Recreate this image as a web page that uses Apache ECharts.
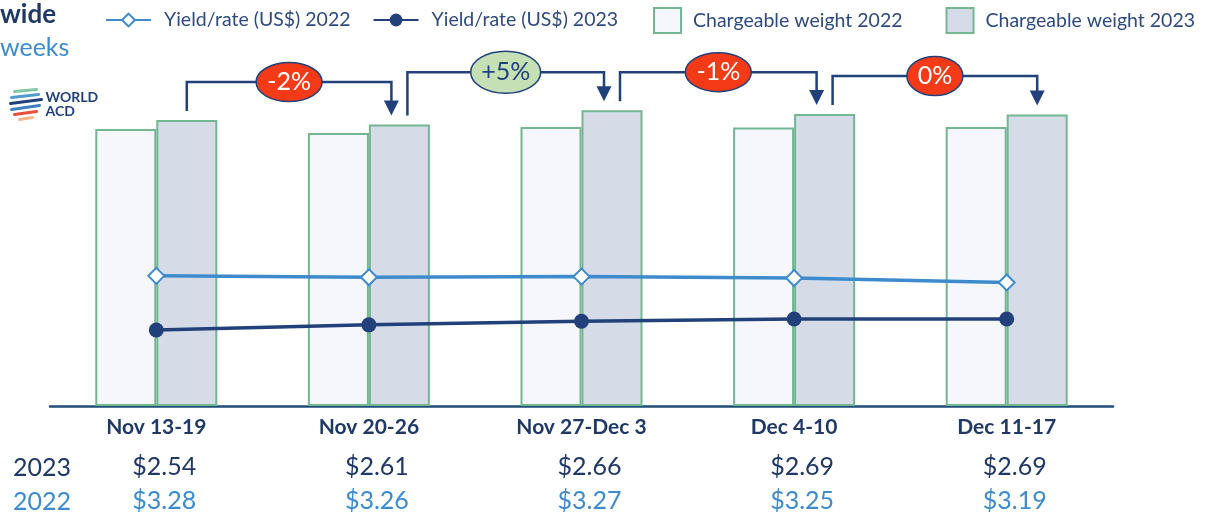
<!DOCTYPE html>
<html>
<head>
<meta charset="utf-8">
<script src="https://cdn.jsdelivr.net/npm/echarts@6/dist/echarts.min.js"></script>
<style>
  html, body { margin: 0; padding: 0; background: #fff; }
  #main { width: 1207px; height: 519px; }
</style>
</head>
<body>
<div id="main"></div>
<script>
// weeks on the x axis
var weeks = ['Nov 13-19', 'Nov 20-26', 'Nov 27-Dec 3', 'Dec 4-10', 'Dec 11-17'];
// chargeable weight (index)
var weight2022 = [101.0, 99.6, 101.8, 101.6, 101.8];
var weight2023 = [104.3, 102.7, 107.9, 106.5, 106.3];
// yield / rate in US$
var yield2022 = [3.28, 3.26, 3.27, 3.25, 3.19];
var yield2023 = [2.54, 2.61, 2.66, 2.69, 2.69];
// week on week change of 2023 weight
var changeLabels = ['-2%', '+5%', '-1%', '0%'];

var navy = '#22417a';
var lightBlue = '#3d8bcd';
var green = '#72b792';
var font = 'Lato, "Open Sans", sans-serif';

var myChart = echarts.init(document.getElementById('main'));

// bracket + bubble between two weeks
function renderBracket(params, api) {
	var i = api.value(0);
	var half = 30.5;
	var p0 = api.coord([i, weight2023[i]]);
	var p1 = api.coord([i + 1, weight2023[i + 1]]);
	var x0 = p0[0] + half + (i > 0 ? 8 : 0);
	var x1 = p1[0] + half - (i + 1 < weeks.length - 1 ? 8 : 0);
	var yTop = Math.min(p0[1], p1[1]) - 38;
	var y0 = p0[1] - 9;
	var y1 = p1[1] - 9;
	var label = changeLabels[i];
	var up = label.charAt(0) == '+';
	var rx = up ? 35 : 18 + 5 * label.length;
	var ry = up ? 21 : 19.5;
	var mid = (x0 + x1) / 2;
	return {
		type: 'group',
		children: [{
			type: 'polyline',
			shape: { points: [[x0, y0], [x0, yTop], [x1, yTop], [x1, y1 - 13]] },
			style: { stroke: navy, lineWidth: 2.5, fill: null }
		}, {
			type: 'polygon',
			shape: { points: [[x1 - 7.5, y1 - 15], [x1 + 7.5, y1 - 15], [x1, y1]] },
			style: { fill: navy }
		}, {
			type: 'ellipse',
			shape: { cx: mid, cy: yTop, rx: rx, ry: ry },
			style: { fill: up ? '#c6e0b6' : '#f43a16', stroke: navy, lineWidth: 1.5 }
		}, {
			type: 'text',
			x: mid,
			y: yTop,
			style: {
				text: label,
				fill: up ? navy : '#ffffff',
				font: '25px ' + font,
				align: 'center',
				verticalAlign: 'middle'
			}
		}]
	};
}

var option = {
	animation: false,
	textStyle: { fontFamily: font },
	grid: { left: 50, right: 94, top: 77, bottom: 113 },
	legend: [{
		left: 100,
		top: 5,
		itemWidth: 45,
		itemHeight: 16,
		itemGap: 22,
		data: ['Yield/rate (US$) 2022', 'Yield/rate (US$) 2023'],
		textStyle: { color: '#2f4a7c', fontSize: 19.5, padding: [0, 0, 0, 8] }
	}, {
		left: 648,
		top: 2,
		itemWidth: 27,
		itemHeight: 25,
		itemGap: 43,
		data: [
			{ name: 'Chargeable weight 2022', icon: 'rect' },
			{ name: 'Chargeable weight 2023', icon: 'rect' }
		],
		textStyle: { color: '#2f4a7c', fontSize: 19.5, padding: [0, 0, 0, 7] }
	}],
	xAxis: [{
		type: 'category',
		data: weeks,
		axisLine: { lineStyle: { color: '#1f4e79', width: 2.5 } },
		axisTick: { show: false },
		axisLabel: { color: '#1f3864', fontWeight: 'bold', fontSize: 21, margin: 11 }
	}, {
		type: 'category',
		data: weeks,
		position: 'bottom',
		offset: 40,
		axisLine: { show: false },
		axisTick: { show: false },
		axisLabel: {
			color: '#1f3864', fontSize: 25, margin: 8, padding: [0, 0, 0, 16],
			formatter: function(v, idx) { return '$' + yield2023[idx].toFixed(2); }
		}
	}, {
		type: 'category',
		data: weeks,
		position: 'bottom',
		offset: 74,
		axisLine: { show: false },
		axisTick: { show: false },
		axisLabel: {
			color: lightBlue, fontSize: 25, margin: 8, padding: [0, 0, 0, 16],
			formatter: function(v, idx) { return '$' + yield2022[idx].toFixed(2); }
		}
	}],
	yAxis: [{
		type: 'value', min: 0, max: 120, show: false, splitLine: { show: false }
	}, {
		type: 'value', min: 1.5, max: 6, show: false, splitLine: { show: false }
	}],
	series: [{
		name: 'Chargeable weight 2022',
		type: 'bar',
		barWidth: 61,
		barGap: '0%',
		data: weight2022,
		itemStyle: { color: '#f5f7fc', borderColor: green, borderWidth: 2 }
	}, {
		name: 'Chargeable weight 2023',
		type: 'bar',
		barWidth: 61,
		data: weight2023,
		itemStyle: { color: '#d5dce8', borderColor: green, borderWidth: 2 }
	}, {
		name: 'Yield/rate (US$) 2022',
		type: 'line',
		yAxisIndex: 1,
		data: yield2022,
		symbol: 'diamond',
		symbolSize: 16,
		lineStyle: { color: lightBlue, width: 3.5 },
		itemStyle: { color: '#ffffff', borderColor: lightBlue, borderWidth: 2 }
	}, {
		name: 'Yield/rate (US$) 2023',
		type: 'line',
		yAxisIndex: 1,
		data: yield2023,
		symbol: 'circle',
		symbolSize: 15,
		lineStyle: { color: navy, width: 3.5 },
		itemStyle: { color: navy }
	}, {
		type: 'custom',
		renderItem: renderBracket,
		data: [[0, 0], [1, 0], [2, 0], [3, 0]],
		z: 5
	}],
	graphic: [{
		type: 'text', left: 0, top: 2,
		style: { text: 'wide', font: 'bold 26px ' + font, fill: '#1f3864' }
	}, {
		type: 'text', left: 0, top: 35,
		style: { text: 'weeks', font: '25px ' + font, fill: lightBlue }
	}, {
		// WORLD ACD logo
		type: 'group', left: 8, top: 87,
		children: [
			{ type: 'line', shape: { x1: 6, y1: 4, x2: 28, y2: 2 }, style: { stroke: '#82c8a6', lineWidth: 3, lineCap: 'round' } },
			{ type: 'line', shape: { x1: 3, y1: 10, x2: 30, y2: 7 }, style: { stroke: '#4f9bd0', lineWidth: 3, lineCap: 'round' } },
			{ type: 'line', shape: { x1: 2, y1: 16, x2: 33, y2: 12 }, style: { stroke: '#22417a', lineWidth: 3, lineCap: 'round' } },
			{ type: 'line', shape: { x1: 3, y1: 22, x2: 31, y2: 18 }, style: { stroke: '#3d7fc0', lineWidth: 3, lineCap: 'round' } },
			{ type: 'line', shape: { x1: 6, y1: 27, x2: 28, y2: 24 }, style: { stroke: '#e8503a', lineWidth: 3, lineCap: 'round' } },
			{ type: 'line', shape: { x1: 11, y1: 32, x2: 24, y2: 30 }, style: { stroke: '#f6b48a', lineWidth: 3, lineCap: 'round' } },
			{ type: 'text', x: 37, y: 3, style: { text: 'WORLD', font: 'bold 14px ' + font, fill: '#22417a' } },
			{ type: 'text', x: 37, y: 17, style: { text: 'ACD', font: 'bold 14px ' + font, fill: '#22417a' } }
		]
	}, {
		type: 'text', left: 13, top: 455,
		style: { text: '2023', font: '25px ' + font, fill: '#1f3864' }
	}, {
		type: 'text', left: 13, top: 489,
		style: { text: '2022', font: '25px ' + font, fill: lightBlue }
	}]
};

myChart.setOption(option);
</script>
</body>
</html>
